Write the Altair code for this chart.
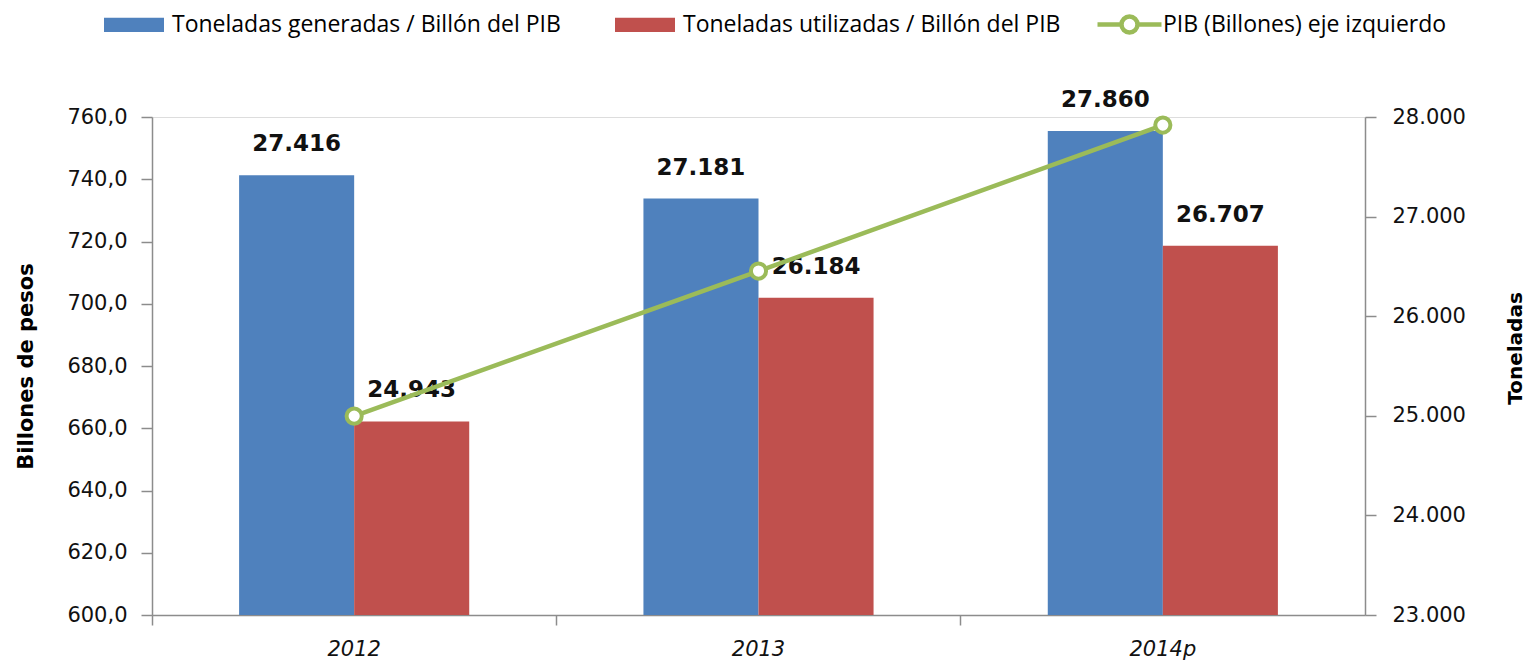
import altair as alt
import pandas as pd

years = ["2012", "2013", "2014p"]
generadas = [27416, 27181, 27860]
utilizadas = [24943, 26184, 26707]
pib = [663.9, 710.5, 757.4]
serie_gen = "Toneladas generadas / Billón del PIB"
serie_uti = "Toneladas utilizadas / Billón del PIB"
serie_pib = "PIB (Billones) eje izquierdo"
left_ticks = [600, 620, 640, 660, 680, 700, 720, 740, 760]
right_ticks = [23000, 24000, 25000, 26000, 27000, 28000]

BLUE, RED, GREEN = "#4F81BD", "#C0504D", "#9BBB59"
AXIS_GRAY = "#8c8c8c"
W, H = 1213, 498

bars_df = pd.DataFrame({
    "year": years * 2,
    "serie": [serie_gen] * 3 + [serie_uti] * 3,
    "valor": generadas + utilizadas,
})
line_df = pd.DataFrame({"year": years, "pib": pib, "serie": [serie_pib] * 3})

x_enc = alt.X(
    "year:N", sort=years, title=None,
    scale=alt.Scale(paddingInner=0, paddingOuter=0),
    axis=alt.Axis(
        bandPosition=0, labelAngle=0,
        labelFont="DejaVu Sans", labelFontSize=21, labelFontStyle="italic",
        labelColor="#111111", labelPadding=13, tickSize=10,
        domainColor=AXIS_GRAY, tickColor=AXIS_GRAY, domainWidth=1.5, tickWidth=1.5,
        grid=False,
    ),
)
xoff = alt.XOffset(
    "serie:N", sort=[serie_gen, serie_uti],
    scale=alt.Scale(paddingInner=0, paddingOuter=0.757),
)

bar_scale = alt.Scale(domain=[23000, 28000], zero=False, nice=False)
pib_scale = alt.Scale(domain=[600, 760], zero=False, nice=False)

bars = alt.Chart(bars_df).mark_bar(opacity=1).encode(
    x=x_enc,
    xOffset=xoff,
    y=alt.Y(
        "valor:Q", scale=bar_scale,
        axis=alt.Axis(
            orient="right", values=right_ticks, grid=False,
            labelExpr="replace(format(datum.value, ','), ',', '.')",
            labelFont="DejaVu Sans", labelFontSize=21, labelColor="#111111",
            labelPadding=16, tickSize=11,
            domainColor=AXIS_GRAY, tickColor=AXIS_GRAY, domainWidth=1.5, tickWidth=1.5,
            title="Toneladas", titleAngle=270, titleBaseline="top",
            titleFont="DejaVu Sans", titleFontWeight="bold", titleFontSize=20,
            titleColor="#000000", titlePadding=40, titleY=231,
        ),
    ),
    y2=alt.datum(23000),
    fill=alt.Fill(
        "serie:N",
        scale=alt.Scale(domain=[serie_gen, serie_uti], range=[BLUE, RED]),
        legend=alt.Legend(
            title=None, orient="none", legendX=-29.5, legendY=-104,
            direction="horizontal", columns=2, columnPadding=53,
            symbolType="M-4,-0.95H4V0.95H-4Z", symbolSize=225,
            symbolStrokeWidth=0, symbolOpacity=1, labelOffset=26.5,
            labelFont="Open Sans", labelFontSize=23, labelColor="#000000",
            labelLimit=700,
        ),
    ),
)

labels = alt.Chart(bars_df).transform_calculate(
    txt="replace(format(datum.valor, ','), ',', '.')"
).mark_text(
    font="DejaVu Sans", fontWeight="bold", fontSize=23, baseline="middle",
    dy=-31, color="#111111",
).encode(
    x=x_enc,
    xOffset=xoff,
    y=alt.Y("valor:Q", scale=bar_scale, axis=None),
    text="txt:N",
)

line = alt.Chart(line_df).mark_line(strokeWidth=4.5).encode(
    x=x_enc,
    y=alt.Y(
        "pib:Q", scale=pib_scale,
        axis=alt.Axis(
            orient="left", values=left_ticks, grid=False,
            labelExpr="replace(format(datum.value, '.1f'), '.', ',')",
            labelFont="DejaVu Sans", labelFontSize=21, labelColor="#111111",
            labelPadding=14, tickSize=11,
            domainColor=AXIS_GRAY, tickColor=AXIS_GRAY, domainWidth=1.5, tickWidth=1.5,
            title="Billones de pesos",
            titleFont="DejaVu Sans", titleFontWeight="bold", titleFontSize=21,
            titleColor="#000000", titlePadding=30,
        ),
    ),
    stroke=alt.Stroke(
        "serie:N",
        scale=alt.Scale(domain=[serie_pib], range=[GREEN]),
        legend=alt.Legend(
            title=None, orient="none", legendX=966, legendY=-104,
            symbolType="M-4,0H-1M1,0H4M-1,0A1,1,0,1,1,1,0A1,1,0,1,1,-1,0Z",
            symbolSize=256, symbolStrokeWidth=4.5, symbolFillColor="#ffffff",
            symbolStrokeColor=GREEN, labelOffset=22,
            labelFont="Open Sans", labelFontSize=23, labelColor="#000000",
            labelLimit=700,
        ),
    ),
)

points = alt.Chart(line_df).mark_point(
    filled=True, fill="#ffffff", stroke=GREEN, strokeWidth=4, size=230, opacity=1,
).encode(
    x=x_enc,
    y=alt.Y("pib:Q", scale=pib_scale, axis=None),
)

chart = alt.layer(bars, labels, line, points).resolve_scale(
    y="independent"
).properties(
    width=W, height=H,
    autosize=alt.AutoSizeParams(type="none"),
    padding={"left": 144, "top": 109, "right": 165, "bottom": 45},
).configure_view(stroke=None).configure(background="#ffffff")

chart.save("out.html", embed_options={"renderer": "svg", "actions": False})
